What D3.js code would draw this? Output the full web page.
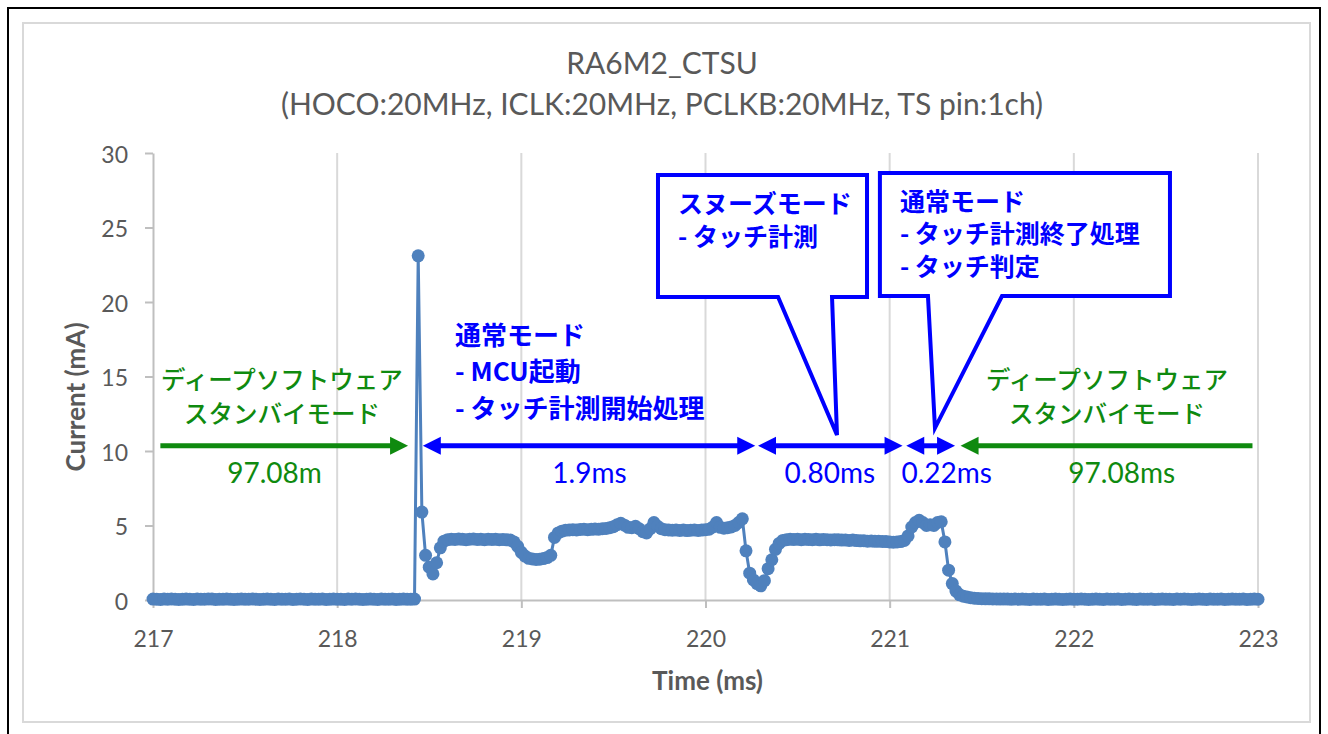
<!DOCTYPE html>
<html>
<head>
<meta charset="utf-8">
<script src="https://cdn.jsdelivr.net/npm/d3@7"></script>
<style>
  html, body { margin: 0; padding: 0; background: #ffffff; }
  svg { display: block; }
</style>
</head>
<body>
<svg id="chart" width="1328" height="734"></svg>
<script>
// ---- Measurement: RA6M2 CTSU supply current, sampled every 20 µs ----
const sampleStart = 217.0;   // ms
const sampleStep = 0.02;     // ms

// Deep software standby before wake-up (217.00 – 218.42 ms)
const standbyBefore = [
  0.06,0.05,0.04,0.06,0.05,0.07,0.05,0.04,0.05,0.06,
  0.05,0.04,0.06,0.05,0.05,0.07,0.06,0.04,0.05,0.05,
  0.06,0.05,0.04,0.05,0.06,0.05,0.05,0.07,0.05,0.04,
  0.05,0.06,0.05,0.04,0.06,0.05,0.05,0.06,0.04,0.05,
  0.07,0.05,0.04,0.06,0.05,0.05,0.06,0.04,0.05,0.06,
  0.05,0.05,0.04,0.06,0.05,0.07,0.05,0.04,0.05,0.06,
  0.05,0.04,0.06,0.05,0.05,0.06,0.04,0.05,0.06,0.05,
  0.05,0.06
];
// Wake-up inrush and MCU start-up (218.44 – 218.60 ms)
const wakeUp = [23.1, 5.9, 3.0, 2.2, 1.75, 2.5, 3.5, 3.95, 4.05];
// Normal mode: MCU start-up code (218.62 – 218.94 ms)
const startupRun = [4.08,4.06,4.1,4.07,4.05,4.08,4.1,4.06,4.07,4.05,4.08,4.06,4.07,4.05,4.06,4.04,4.02];
// Normal mode: touch measurement start processing (218.96 – 220.20 ms)
const measureStart = [
  3.9,3.6,3.2,2.95,2.8,2.75,2.72,2.74,2.78,2.85,3.0,4.2,4.5,4.62,4.68,
  4.7,4.72,4.7,4.73,4.75,4.72,4.74,4.76,4.75,4.78,4.8,4.85,
  4.92,5.05,5.15,5.02,4.88,4.85,4.95,4.78,4.58,4.5,4.78,5.2,4.95,4.78,
  4.72,4.7,4.68,4.7,4.67,4.69,4.66,4.68,4.7,4.67,4.69,4.72,4.75,
  4.9,5.2,4.88,4.82,4.85,4.9,5.0,5.2,5.45
];
// Snooze mode: touch measurement (220.22 – 221.08 ms)
const snoozeMeasure = [
  3.3,1.8,1.35,1.1,0.95,1.3,2.1,2.7,3.4,3.8,4.0,4.05,
  4.07,4.06,4.08,4.05,4.07,4.06,4.05,4.07,4.04,4.06,
  4.05,4.03,4.05,4.04,4.02,4.03,4.0,4.02,3.99,3.97,
  3.98,3.95,3.96,3.94,3.95,3.93,3.92,
  3.9,3.88,3.9,3.92,4.0
];
// Normal mode: measurement end processing and touch judgement (221.10 – 221.28 ms)
const judgeRun = [4.3,4.9,5.2,5.35,5.2,5.0,5.05,5.0,5.2,5.25];
// Return to deep software standby (221.30 – 223.00 ms)
const standbyAfter = [
  3.9,2.0,1.1,0.6,0.35,0.25,0.2,0.15,0.12,0.1,
  0.09,0.08,0.08,0.07,0.07,0.06,0.07,0.06,0.05,0.06,
  0.05,0.06,0.05,0.04,0.06,0.05,0.05,0.06,0.04,0.05,
  0.06,0.05,0.04,0.05,0.06,0.05,0.05,0.07,0.05,0.04,
  0.05,0.06,0.05,0.04,0.06,0.05,0.05,0.06,0.04,0.05,
  0.07,0.05,0.04,0.06,0.05,0.05,0.06,0.04,0.05,0.06,
  0.05,0.05,0.04,0.06,0.05,0.07,0.05,0.04,0.05,0.06,
  0.05,0.04,0.06,0.05,0.05,0.06,0.04,0.05,0.06,0.05,
  0.05,0.06,0.04,0.05,0.06,0.05
];

const xTicks = [217, 218, 219, 220, 221, 222, 223];
const yTicks = [0, 5, 10, 15, 20, 25, 30];

const titleLines = ["RA6M2_CTSU", "(HOCO:20MHz, ICLK:20MHz, PCLKB:20MHz, TS pin:1ch)"];
const xTitle = "Time (ms)";
const yTitle = "Current (mA)";

// Duration arrows (ms) with their labels
const spanArrows = [
  { from: 217.04, to: 218.385, heads: "end",   color: "green", label: "97.08m",  labelAt: 217.66 },
  { from: 218.465, to: 220.27, heads: "both",  color: "blue",  label: "1.9ms",   labelAt: 219.37 },
  { from: 220.285, to: 221.07, heads: "both",  color: "blue",  label: "0.80ms",  labelAt: 220.675 },
  { from: 221.09, to: 221.355, heads: "both",  color: "blue",  label: "0.22ms",  labelAt: 221.31 },
  { from: 221.385, to: 222.97, heads: "start", color: "green", label: "97.08ms", labelAt: 222.26 }
];
// Mode captions above the arrows
const standbyCaption = ["ディープソフトウェア", "スタンバイモード"];
const standbyCaptionAt = [217.70, 222.18];
const startupCaption = ["通常モード", "- MCU起動", "- タッチ計測開始処理"];
const snoozeCallout = { lines: ["スヌーズモード", "- タッチ計測"],
  x0: 219.742, x1: 220.877, top: 28.52, bottom: 20.34, base0: 220.394, base1: 220.687, tipX: 220.714, tipY: 11.07 };
const judgeCallout = { lines: ["通常モード", "- タッチ計測終了処理", "- タッチ判定"],
  x0: 220.947, x1: 222.522, top: 28.66, bottom: 20.4, base0: 221.208, base1: 221.61, tipX: 221.246, tipY: 11.54 };

// ---- Drawing ----
const current = [].concat(standbyBefore, wakeUp, startupRun, measureStart, snoozeMeasure, judgeRun, standbyAfter);
const samples = current.map((v, i) => ({ t: sampleStart + i * sampleStep, v }));

const COLORS = { series: "#4F81BD", blue: "#0000FF", green: "#0F8A0F", text: "#595959", grid: "#D9D9D9", axis: "#BFBFBF" };
const JP = "'Noto Sans CJK JP', 'Noto Sans', sans-serif";
const LAT = "Lato, 'Open Sans', sans-serif";

const svg = d3.select("#chart");
const plot = { left: 153, right: 1258, top: 153, bottom: 600 };
const x = d3.scaleLinear().domain([217, 223]).range([plot.left, plot.right]);
const y = d3.scaleLinear().domain([0, 30]).range([plot.bottom, plot.top]);

// frame
svg.append("rect").attr("x", 0).attr("y", 0).attr("width", 1328).attr("height", 734).attr("fill", "#fff");
svg.append("rect").attr("x", 8).attr("y", 8).attr("width", 1312).attr("height", 740)
  .attr("fill", "none").attr("stroke", "#000").attr("stroke-width", 2);
svg.append("rect").attr("x", 23).attr("y", 23).attr("width", 1287).attr("height", 699)
  .attr("fill", "none").attr("stroke", COLORS.grid).attr("stroke-width", 2);

// title
svg.append("g").selectAll("text").data(titleLines).join("text")
  .attr("x", 662).attr("y", (d, i) => 62 + i * 41)
  .attr("text-anchor", "middle").attr("dominant-baseline", "central")
  .attr("font-family", LAT).attr("font-size", 30).attr("fill", COLORS.text)
  .text(d => d);

// vertical gridlines
svg.append("g").selectAll("line").data(xTicks.filter(t => t !== 217)).join("line")
  .attr("x1", d => x(d)).attr("x2", d => x(d))
  .attr("y1", y(30)).attr("y2", y(0))
  .attr("stroke", COLORS.grid).attr("stroke-width", 2);

// axes
const gx = svg.append("g").attr("transform", `translate(0,${plot.bottom})`)
  .call(d3.axisBottom(x).tickValues(xTicks).tickSize(8).tickSizeOuter(0).tickFormat(d3.format("d")));
const gy = svg.append("g").attr("transform", `translate(${plot.left},0)`)
  .call(d3.axisLeft(y).tickValues(yTicks).tickSize(8).tickSizeOuter(0).tickFormat(d3.format("d")));
[gx, gy].forEach(g => {
  g.select(".domain").attr("stroke", COLORS.axis).attr("stroke-width", 2);
  g.selectAll(".tick line").attr("stroke", COLORS.axis).attr("stroke-width", 2);
  g.selectAll(".tick text").attr("font-family", LAT).attr("font-size", 23).attr("fill", COLORS.text);
});
gx.selectAll(".tick text").attr("y", 38).attr("dy", null).attr("dominant-baseline", "central");
gy.selectAll(".tick text").attr("x", -25).attr("dy", null).attr("dominant-baseline", "central");

svg.append("text").attr("x", (plot.left + plot.right) / 2 + 2).attr("y", 680)
  .attr("text-anchor", "middle").attr("dominant-baseline", "central")
  .attr("font-family", LAT).attr("font-weight", "bold").attr("font-size", 26).attr("fill", COLORS.text)
  .text(xTitle);
svg.append("text").attr("transform", "translate(75,397) rotate(-90)")
  .attr("text-anchor", "middle").attr("dominant-baseline", "central")
  .attr("font-family", LAT).attr("font-weight", "bold").attr("font-size", 26).attr("fill", COLORS.text)
  .text(yTitle);

// series
const line = d3.line().x(d => x(d.t)).y(d => y(d.v));
svg.append("path").datum(samples).attr("d", line)
  .attr("fill", "none").attr("stroke", COLORS.series).attr("stroke-width", 3).attr("stroke-linejoin", "round");
svg.append("g").selectAll("circle").data(samples).join("circle")
  .attr("cx", d => x(d.t)).attr("cy", d => y(d.v)).attr("r", 6.5)
  .attr("fill", COLORS.series);

// duration arrows
const arrowY = y(10.35), labelY = y(8.6);
const colorOf = c => c === "blue" ? COLORS.blue : COLORS.green;
const headLen = 18, headHalf = 9;
function head(g, tipX, dir, color) {
  // dir = +1 points right, -1 points left
  g.append("path")
    .attr("d", `M${tipX},${arrowY} L${tipX - dir * headLen},${arrowY - headHalf} L${tipX - dir * headLen},${arrowY + headHalf} Z`)
    .attr("fill", color);
}
const ga = svg.append("g");
spanArrows.forEach(a => {
  const c = colorOf(a.color);
  const x0 = x(a.from), x1 = x(a.to);
  const s0 = (a.heads === "both" || a.heads === "start") ? x0 + headLen - 2 : x0;
  const s1 = (a.heads === "both" || a.heads === "end") ? x1 - headLen + 2 : x1;
  ga.append("line").attr("x1", s0).attr("x2", s1).attr("y1", arrowY).attr("y2", arrowY)
    .attr("stroke", c).attr("stroke-width", 5);
  if (a.heads === "both" || a.heads === "end") head(ga, x1, 1, c);
  if (a.heads === "both" || a.heads === "start") head(ga, x0, -1, c);
  ga.append("text").attr("x", x(a.labelAt)).attr("y", labelY)
    .attr("text-anchor", "middle").attr("dominant-baseline", "central")
    .attr("font-family", LAT).attr("font-size", 28).attr("fill", c)
    .text(a.label);
});

// standby captions (green)
standbyCaptionAt.forEach(t => {
  svg.append("g").selectAll("text").data(standbyCaption).join("text")
    .attr("x", x(t)).attr("y", (d, i) => 378 + i * 34)
    .attr("text-anchor", "middle").attr("dominant-baseline", "central")
    .attr("font-family", JP).attr("font-weight", 500).attr("font-size", 24.5).attr("fill", COLORS.green)
    .text(d => d);
});

// normal-mode start-up caption (blue)
svg.append("g").selectAll("text").data(startupCaption).join("text")
  .attr("x", x(218.64)).attr("y", (d, i) => 333 + i * 36.5)
  .attr("dominant-baseline", "central")
  .attr("font-family", JP).attr("font-weight", "bold").attr("font-size", 26).attr("fill", COLORS.blue)
  .text(d => d);

// callouts
function callout(c) {
  const L = x(c.x0), R = x(c.x1), T = y(c.top), B = y(c.bottom);
  const pts = [[L, T], [R, T], [R, B], [x(c.base1), B], [x(c.tipX), y(c.tipY)], [x(c.base0), B], [L, B]];
  const g = svg.append("g");
  g.append("path").attr("d", "M" + pts.map(p => p.join(",")).join("L") + "Z")
    .attr("fill", "#fff").attr("stroke", COLORS.blue).attr("stroke-width", 4).attr("stroke-linejoin", "miter");
  g.selectAll("text").data(c.lines).join("text")
    .attr("x", L + 20).attr("y", (d, i) => T + 27 + i * 32.5)
    .attr("dominant-baseline", "central")
    .attr("font-family", JP).attr("font-weight", "bold").attr("font-size", 25).attr("fill", COLORS.blue)
    .text(d => d);
}
callout(snoozeCallout);
callout(judgeCallout);
</script>
</body>
</html>
